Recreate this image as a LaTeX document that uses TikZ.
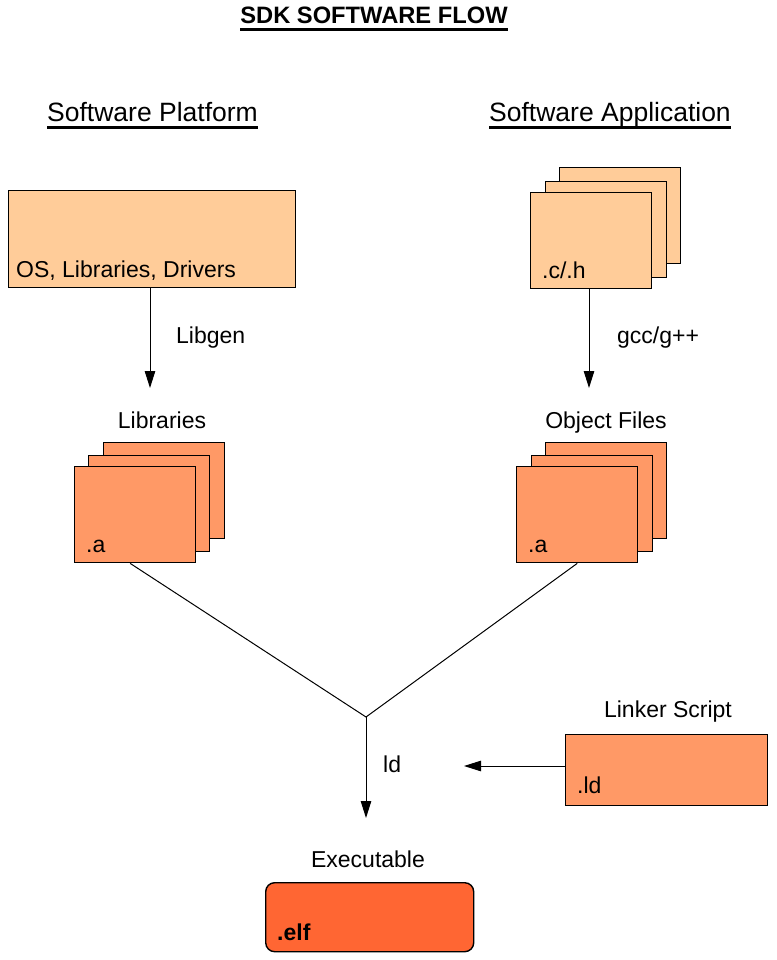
\documentclass[tikz,border=0pt]{standalone}
\usepackage{fontspec}
\setmainfont{Liberation Sans}
\usepackage{xcolor}
\usepackage{tikz}
\usetikzlibrary{arrows.meta,positioning}
\definecolor{srcfill}{HTML}{FFCC99}
\definecolor{objfill}{HTML}{FF9966}
\definecolor{elffill}{HTML}{FF6633}

\begin{document}
\begin{tikzpicture}[x=1pt, y=-1pt]
    \tikzset{
        box/.style={rectangle, draw, line width=1.4pt, inner sep=0pt, anchor=north west},
        srcbox/.style={box, fill=srcfill, minimum width=121pt, minimum height=96pt},
        objbox/.style={box, fill=objfill, minimum width=121pt, minimum height=96pt},
        boxtext/.style={font=\fontsize{23}{27}\selectfont, inner sep=0pt, anchor=base west},
        caption/.style={font=\fontsize{23}{27}\selectfont, inner sep=0pt, anchor=base},
        heading/.style={font=\fontsize{26.5}{31}\selectfont, inner sep=0pt, anchor=base west},
        arrow/.style={line width=1pt, -{Triangle[length=17pt, width=10.5pt]}},
        link/.style={line width=1pt},
        uline/.style={line width=2.6pt}
    }
    \path[fill=white] (0,0) rectangle (776,960);
    \useasboundingbox (0,0) rectangle (776,960);

    % titles
    \node [font=\bfseries\fontsize{23.7}{28}\selectfont, inner sep=0pt, anchor=base] (title) at (374,23.5) {SDK SOFTWARE FLOW};
    \node [heading] (plathead) at (47,122) {Software Platform};
    \node [heading] (apphead) at (489,122) {Software Application};
    \draw [uline] ([yshift=-6pt]title.base west) -- ([yshift=-6pt]title.base east);
    \draw [uline] ([yshift=-5.5pt]plathead.base west) -- ([yshift=-5.5pt]plathead.base east);
    \draw [uline] ([yshift=-5.5pt]apphead.base west) -- ([yshift=-5.5pt]apphead.base east);

    % sources
    \node [box, fill=srcfill, minimum width=287pt, minimum height=97pt] (plat) at (8,190) {};
    \node [boxtext] at ([shift={(8,-11)}]plat.south west) {OS, Libraries, Drivers};

    \node [srcbox] (appback) at (559,167) {};
    \node [srcbox] (appmid) at (545,181) {};
    \node [srcbox] (app) at (530,192) {};
    \node [boxtext] at ([shift={(12,-11)}]app.south west) {.c/.h};

    % builds
    \coordinate (libin) at (150,388);
    \coordinate (appin) at (589,388);
    \draw [arrow] (libin |- plat.south) -- (libin);
    \draw [arrow] (appin |- app.south) -- (appin);
    \node [boxtext] (libgen) at (176,343) {Libgen};
    \node [boxtext] (gcc) at (617,343) {gcc/g++};

    \node [caption] (libhead) at (162,428) {Libraries};
    \node [caption] (objhead) at (606,428) {Object Files};

    \node [objbox] (libback) at (103,442) {};
    \node [objbox] (libmid) at (88,455) {};
    \node [objbox] (lib) at (74,466) {};
    \node [boxtext] at ([shift={(12,-11)}]lib.south west) {.a};

    \node [objbox] (objback) at (545,442) {};
    \node [objbox] (objmid) at (531,455) {};
    \node [objbox] (obj) at (516,466) {};
    \node [boxtext] at ([shift={(12,-11)}]obj.south west) {.a};

    % link
    \coordinate (join) at (366,717);
    \coordinate (exein) at (366,818);
    \draw [link] ([xshift=-5pt]lib.south) -- (join) -- (obj.south);
    \draw [arrow] (join) -- (exein);
    \node [boxtext] (ld) at (383,772) {ld};

    \node [caption] (ldhead) at (668,717) {Linker Script};
    \node [box, fill=objfill, minimum width=202pt, minimum height=71pt] (ldbox) at (565,734) {};
    \node [boxtext] at ([shift={(12,-13)}]ldbox.south west) {.ld};
    \coordinate (ldin) at (464,766);
    \draw [arrow] (ldin -| ldbox.west) -- (ldin);

    \node [caption] (exehead) at (368,867) {Executable};
    \node [box, fill=elffill, rounded corners=9pt, minimum width=208pt, minimum height=69pt] (elf) at (265,882) {};
    \node [boxtext, font=\bfseries\fontsize{23}{27}\selectfont] at ([shift={(12,-12)}]elf.south west) {.elf};
\end{tikzpicture}
\end{document}
